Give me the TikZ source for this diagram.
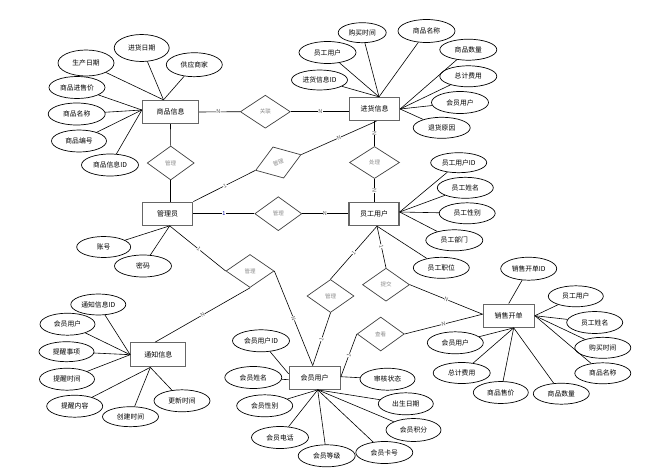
\documentclass[tikz,border=0pt]{standalone}
\usepackage{fontspec}
\setmainfont{Noto Sans CJK SC}
\usetikzlibrary{shapes.geometric,calc}
\begin{document}
\begin{tikzpicture}[x=1pt,y=-1pt,line width=0.6pt,
  ent/.style={rectangle,draw=black!60,line width=1.3pt,minimum width=50pt,minimum height=23pt,inner sep=0pt,font=\fontsize{7}{8}\selectfont},
  attr/.style={ellipse,draw,line width=0.7pt,minimum width=56pt,minimum height=22pt,inner sep=0pt,font=\fontsize{6.8}{8}\selectfont},
  rel/.style={diamond,draw=black!75,line width=0.7pt,minimum width=48pt,minimum height=33pt,inner sep=0pt,text=black!45,font=\fontsize{5.5}{6}\selectfont},
  card/.style={font=\fontsize{5.5}{6}\selectfont,text=black!65,fill=white,inner sep=0.3pt,sloped},
  conn/.style={draw,line width=0.6pt}
]
\useasboundingbox (0,0) rectangle (650,471);
\fill[white] (0,0) rectangle (650,471);

% entities
\node[ent,minimum width=56pt] (sp) at (170.5,112) {商品信息};
\node[ent] (jh) at (374.5,109) {进货信息};
\node[ent] (gly) at (167.7,213.7) {管理员};
\node[ent] (yg) at (374,214) {员工用户};
\node[ent,minimum width=55pt,minimum height=24pt] (tz) at (158.3,354.7) {通知信息};
\node[ent,minimum width=51pt] (hy) at (314.7,377.7) {会员用户};
\node[ent,minimum width=51pt] (xs) at (508.7,315.7) {销售开单};

% relationships
\node[rel,minimum width=50pt] (gl1) at (265.3,111.7) {关联};
\node[rel,minimum width=47pt,minimum height=34pt] (gl) at (170.7,163) {管理};
\node[rel,rotate=19] (gl2) at (278.3,162.5) {管理};
\node[rel,minimum width=47pt,minimum height=34pt] (gl3) at (278.3,213.7) {管理};
\node[rel,minimum width=50pt,minimum height=32pt] (cl) at (374.5,162.5) {处理};
\node[rel] (gl4) at (250,271) {管理};
\node[rel,minimum width=47pt] (gl5) at (330.5,296) {管理};
\node[rel,minimum width=47pt] (tj) at (386,284.7) {提交};
\node[rel,minimum width=47pt,minimum height=34pt] (ck) at (380.7,334) {查看};

% attributes of 商品信息
\node[attr,minimum height=26pt] (a1) at (86,63) {生产日期};
\node[attr,minimum width=55pt,minimum height=27pt] (a2) at (141.7,48) {进货日期};
\node[attr,minimum height=24pt] (a3) at (194.3,64.7) {供应商家};
\node[attr] (a4) at (77,87.5) {商品进售价};
\node[attr,minimum width=57pt] (a5) at (76.7,114) {商品名称};
\node[attr,minimum width=55pt] (a6) at (79,141) {商品编号};
\node[attr,minimum width=57pt] (a7) at (110,165) {商品信息ID};

% attributes of 进货信息
\node[attr,minimum width=48pt,minimum height=20pt] (b1) at (362.2,32.7) {购买时间};
\node[attr,minimum width=57pt,minimum height=23pt] (b2) at (426.5,31) {商品名称};
\node[attr,minimum width=57pt] (b3) at (327.5,52.5) {员工用户};
\node[attr,minimum height=20pt] (b4) at (319.5,80) {进货信息ID};
\node[attr,minimum width=57pt,minimum height=21pt] (b5) at (468.3,49.7) {商品数量};
\node[attr,minimum width=57pt,minimum height=21pt] (b6) at (468.3,76.3) {总计费用};
\node[attr,minimum width=57pt] (b7) at (460,102.5) {会员用户};
\node[attr,minimum width=57pt,minimum height=21pt] (b8) at (441.7,127.8) {退货原因};

% attributes of 员工用户
\node[attr,minimum height=20pt] (c1) at (458.7,162.7) {员工用户ID};
\node[attr,minimum height=21pt] (c2) at (465.3,187.8) {员工姓名};
\node[attr,minimum height=21pt] (c3) at (467.2,213.3) {员工性别};
\node[attr,minimum width=57pt,minimum height=21pt] (c4) at (454.3,240.3) {员工部门};
\node[attr,minimum height=21pt] (c5) at (441.3,267.8) {员工职位};

% attributes of 管理员
\node[attr,minimum width=54pt,minimum height=21pt] (d1) at (103.7,247) {账号};
\node[attr,minimum width=57pt] (d2) at (143,266) {密码};

% attributes of 通知信息
\node[attr,minimum width=55pt,minimum height=21pt] (e1) at (98.3,304.5) {通知信息ID};
\node[attr,minimum width=55pt] (e2) at (67.5,324.2) {会员用户};
\node[attr,minimum width=55pt,minimum height=20pt] (e3) at (66.5,351.7) {提醒事项};
\node[attr,minimum width=55pt] (e4) at (67,379.2) {提醒时间};
\node[attr] (e5) at (74.7,406.2) {提醒内容};
\node[attr,minimum height=20pt] (e6) at (130.5,416.7) {创建时间};
\node[attr] (e7) at (182,400.8) {更新时间};

% attributes of 会员用户
\node[attr,minimum width=57pt] (f1) at (261,340.8) {会员用户ID};
\node[attr,minimum width=57pt] (f2) at (253.3,377.5) {会员姓名};
\node[attr] (f3) at (264.7,405.8) {会员性别};
\node[attr,minimum width=57pt] (f4) at (280,437.5) {会员电话};
\node[attr,minimum width=57pt] (f5) at (326.7,455.8) {会员等级};
\node[attr,minimum width=57pt] (f6) at (384.3,452.5) {会员卡号};
\node[attr,minimum width=55pt,minimum height=23pt] (f7) at (413.5,430) {会员积分};
\node[attr,minimum width=55pt] (f8) at (405.8,403.8) {出生日期};
\node[attr,minimum width=55pt] (f9) at (387.5,379.2) {审核状态};

% attributes of 销售开单
\node[attr,minimum height=23pt] (g1) at (528.7,268.7) {销售开单ID};
\node[attr,minimum width=55pt,minimum height=21pt] (g2) at (575.8,296.3) {员工用户};
\node[attr] (g3) at (594.7,322.5) {员工姓名};
\node[attr,minimum height=21pt] (g4) at (602.8,347.8) {购买时间};
\node[attr,minimum height=21pt] (g5) at (602.8,373.3) {商品名称};
\node[attr,minimum height=21pt] (g6) at (561.3,393.7) {商品数量};
\node[attr,minimum width=55pt] (g7) at (500.8,392.5) {商品售价};
\node[attr,minimum width=57pt,minimum height=21pt] (g8) at (461.7,373) {总计费用};
\node[attr] (g9) at (455.3,342.8) {会员用户};

% convergence points
\coordinate (spT) at ($(sp.north)+(-7,0)$);
\coordinate (spL) at ($(sp.west)+(0,-2)$);
\coordinate (jhT) at ($(jh.north)+(4.5,0)$);
\coordinate (jhR) at (jh.east);
\coordinate (jhB) at ($(jh.south)+(2,0)$);
\coordinate (glyB) at ($(gly.south)+(2,0)$);
\coordinate (ygR) at ($(yg.east)+(0,-2)$);
\coordinate (ygB) at ($(yg.south)+(3,0)$);
\coordinate (tzL) at (tz.west);
\coordinate (tzB) at ($(tz.south)+(-8,0)$);
\coordinate (tzT) at ($(tz.north)+(-3,0)$);
\coordinate (hyL1) at ($(hy.west)+(0,-4)$);
\coordinate (hyL2) at ($(hy.west)+(0,2)$);
\coordinate (hyB) at ($(hy.south)+(3,0)$);
\coordinate (hyT) at ($(hy.north)+(-2,0)$);
\coordinate (hyR) at ($(hy.east)+(0,-1)$);
\coordinate (xsT) at (xs.north);
\coordinate (xsR) at (xs.east);
\coordinate (xsB) at ($(xs.south)+(5,0)$);
\coordinate (xsL) at ($(xs.west)+(0,-1.5)$);

% attribute connectors
\foreach \n in {a1,a2,a3} \draw (\n) -- (spT);
\foreach \n in {a4,a5,a6,a7} \draw (\n) -- (spL);
\foreach \n in {b1,b2,b3,b4} \draw (\n) -- (jhT);
\foreach \n in {b5,b6,b7,b8} \draw (\n) -- (jhR);
\foreach \n in {c1,c2,c3,c4} \draw (\n) -- (ygR);
\draw (c5) -- (ygB);
\foreach \n in {d1,d2} \draw (\n) -- (glyB);
\foreach \n in {e1,e2,e3,e4} \draw (\n) -- (tzL);
\foreach \n in {e5,e6,e7} \draw (\n) -- (tzB);
\draw (f1) -- (hyL1);
\draw (f2) -- (hyL2);
\foreach \n in {f3,f4,f5,f6,f7,f8} \draw (\n) -- (hyB);
\draw (f9) -- (hyR);
\draw (g1) -- (xsT);
\foreach \n in {g2,g3,g4,g5} \draw (\n) -- (xsR);
\foreach \n in {g6,g7,g8,g9} \draw (\n) -- (xsB);

% relationship connectors
\draw (sp.east) -- node[card,pos=0.47]{N} (gl1.west);
\draw (gl1.east) -- node[card,pos=0.51]{N} (gl1.east -| jh.west);
\draw (sp.south) -- (gl.north);
\draw (gl.south) -- (gl.south |- gly.north);
\draw (gly.north east) -- node[card,pos=0.51]{1} (gl2.west);
\draw (gl2.east) -- node[card,pos=0.5]{N} (jhB);
\draw (jh.south) -- node[card,pos=0.48]{N} (cl.north);
\draw (cl.south) -- node[card,pos=0.5]{N} (cl.south |- yg.north);
\draw (gly.east) -- node[card,pos=0.5,text=blue!60!black]{1} (gl3.west);
\draw (gl3.east) -- node[card,pos=0.49]{N} (gl3.east -| yg.west);
\draw (glyB) -- node[card,pos=0.52]{1} (gl4.west);
\draw (gl4.east) -- node[card,pos=0.5]{N} (hyT);
\draw (gl4.south) -- node[card,pos=0.5]{N} (tzT);
\draw (ygB) -- node[card,pos=0.5]{1} (gl5.north);
\draw (gl5.south) -- node[card,pos=0.5]{1} (hyT);
\draw (ygB) -- node[card,pos=0.48]{1} (tj.north);
\draw (tj.east) -- node[card,pos=0.5]{N} (xsL);
\draw (ck.east) -- node[card,pos=0.5]{N} (xsL);
\draw (ck.west) -- node[card,pos=0.5]{1} (hyR);
\end{tikzpicture}
\end{document}
